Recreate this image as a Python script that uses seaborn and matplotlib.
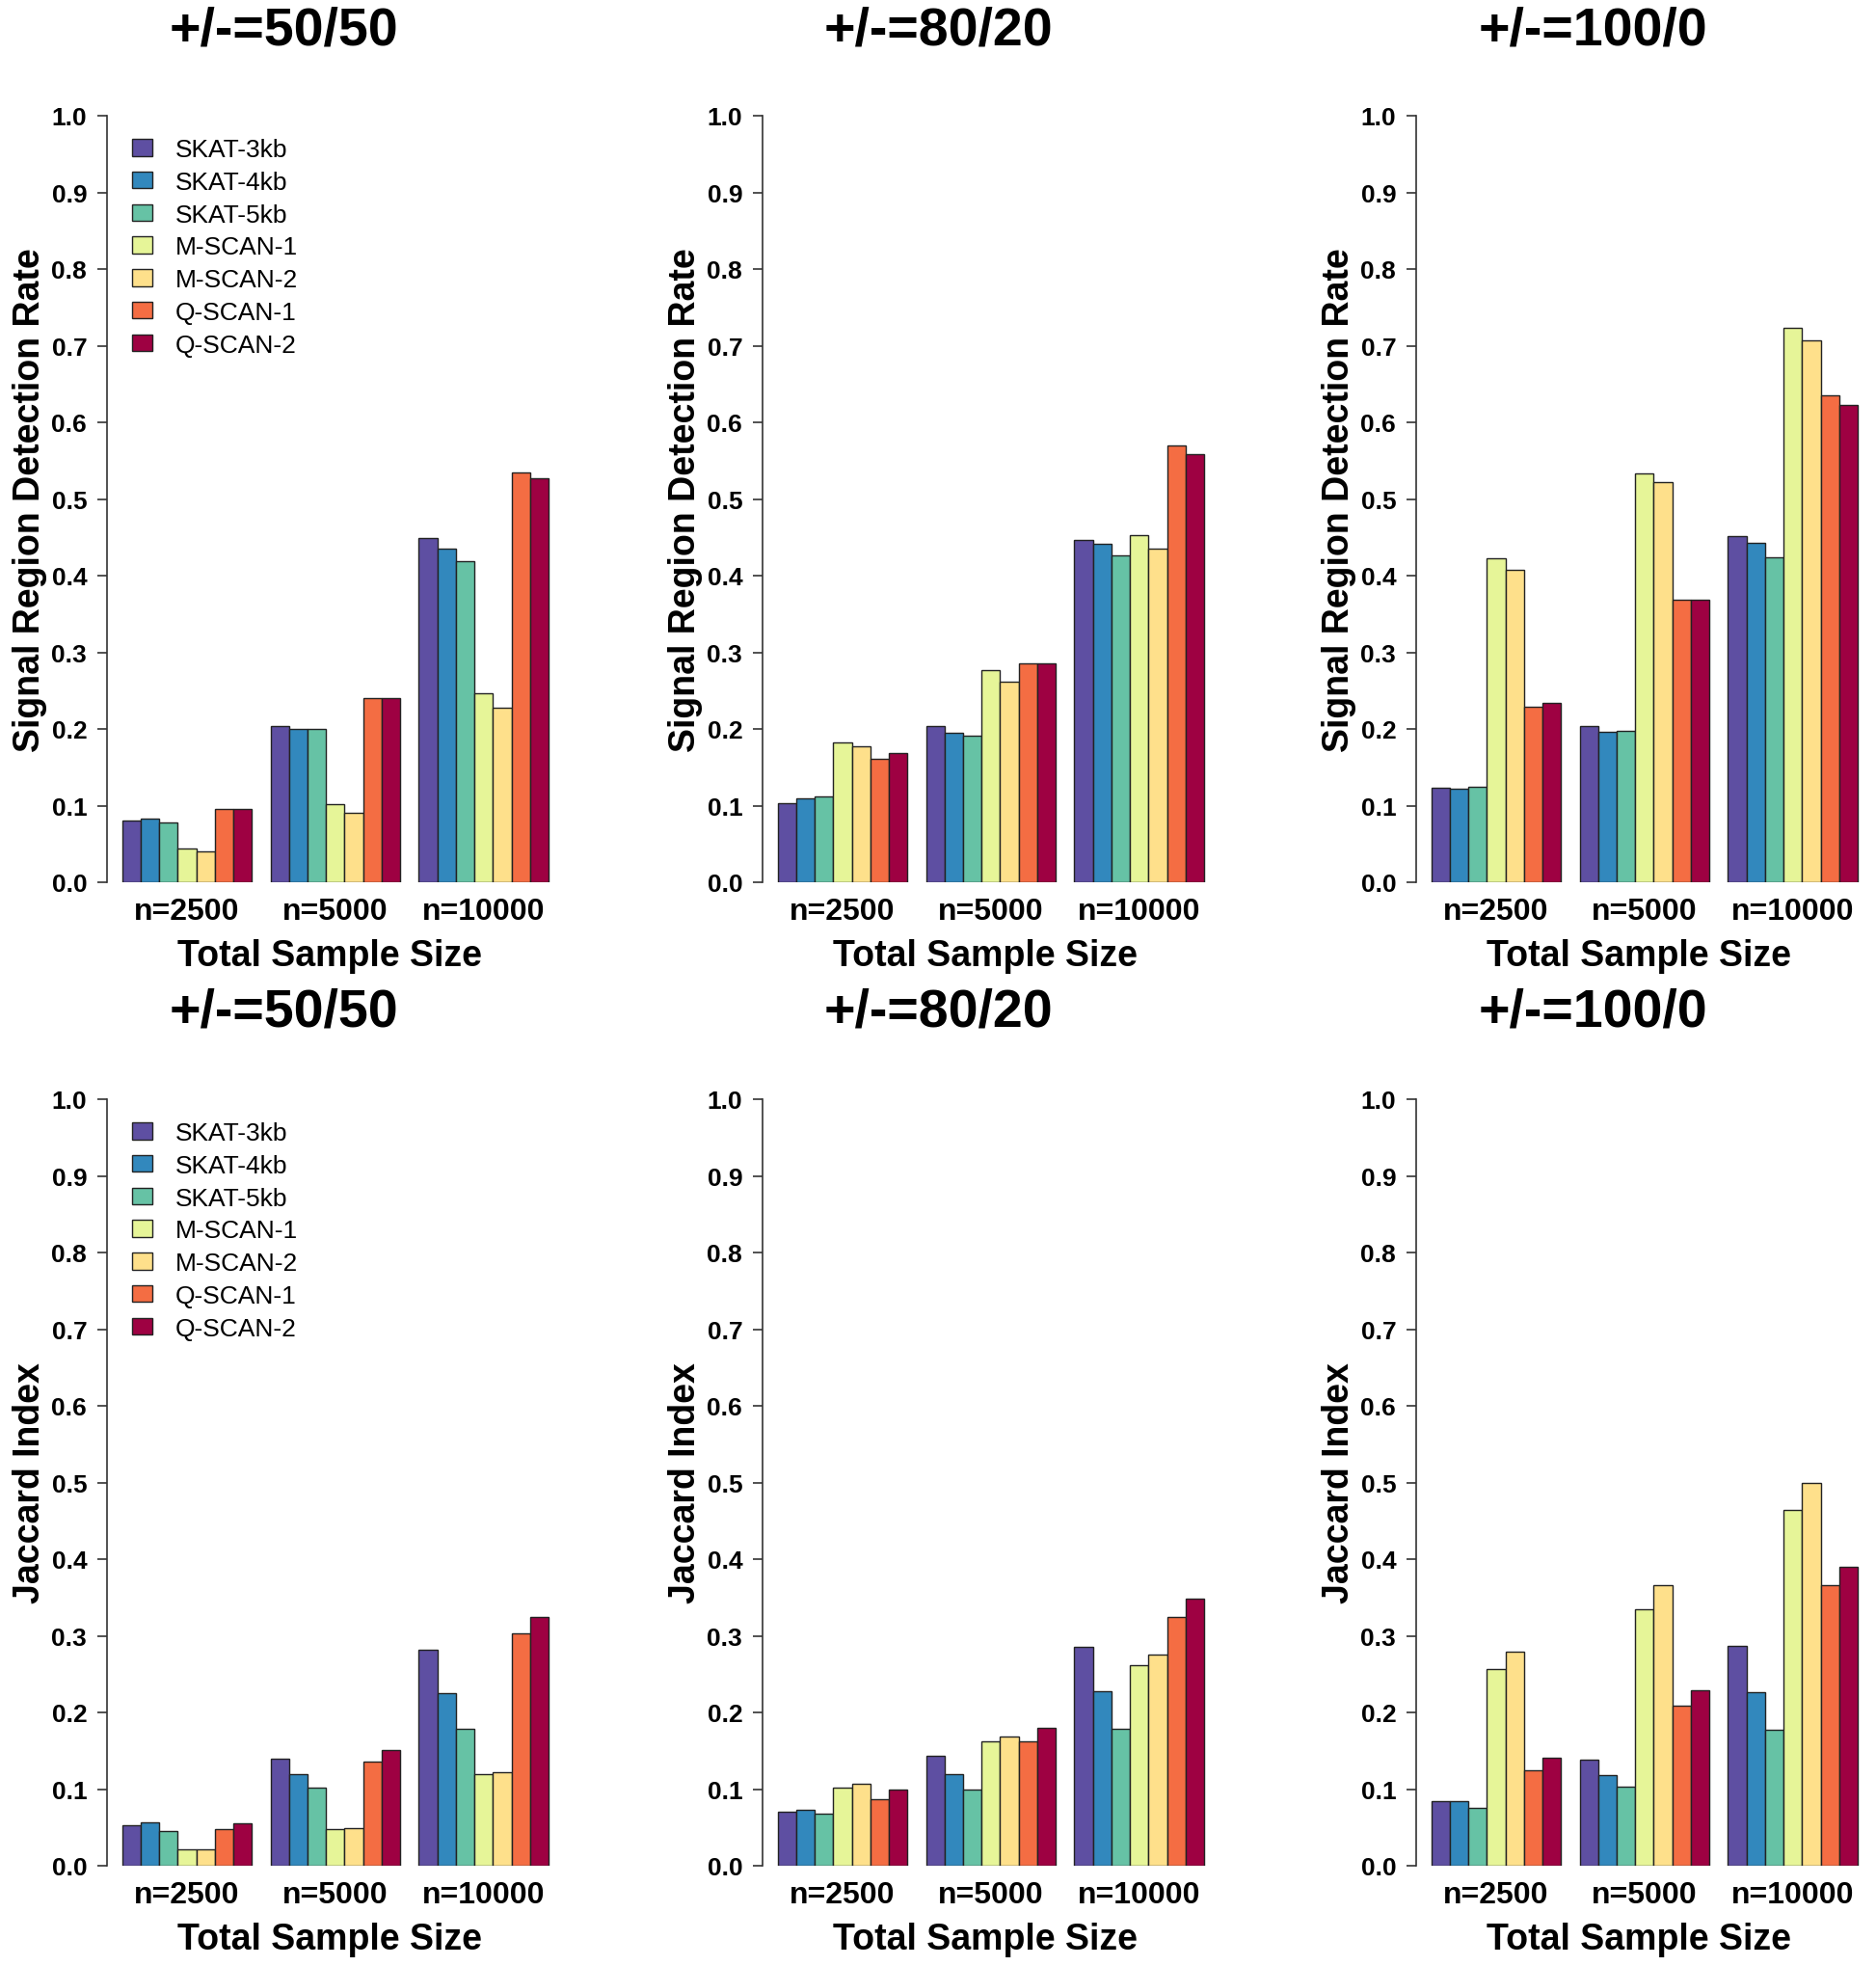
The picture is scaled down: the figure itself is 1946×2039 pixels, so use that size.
import numpy as np
import pandas as pd
import matplotlib
matplotlib.use('Agg')
import matplotlib.pyplot as plt
import seaborn as sns

sizes = ['n=2500', 'n=5000', 'n=10000']
methods = ['SKAT-3kb', 'SKAT-4kb', 'SKAT-5kb', 'M-SCAN-1', 'M-SCAN-2', 'Q-SCAN-1', 'Q-SCAN-2']
colors = ['#5e4fa2', '#3288bd', '#66c2a5', '#e6f598', '#fee08b', '#f46d43', '#9e0142']
ratios = ['+/-=50/50', '+/-=80/20', '+/-=100/0']

# signal region detection rate (rows = sample size, cols = method)
rate_50_50 = [[0.080, 0.083, 0.078, 0.044, 0.040, 0.096, 0.096],
              [0.204, 0.200, 0.200, 0.102, 0.091, 0.240, 0.240],
              [0.449, 0.435, 0.419, 0.246, 0.228, 0.534, 0.527]]
rate_80_20 = [[0.103, 0.110, 0.112, 0.183, 0.177, 0.161, 0.169],
              [0.204, 0.195, 0.191, 0.277, 0.262, 0.285, 0.286],
              [0.446, 0.442, 0.427, 0.453, 0.435, 0.570, 0.559]]
rate_100_0 = [[0.123, 0.122, 0.125, 0.423, 0.408, 0.229, 0.234],
              [0.204, 0.196, 0.198, 0.533, 0.522, 0.369, 0.369],
              [0.452, 0.443, 0.424, 0.723, 0.707, 0.635, 0.623]]

# jaccard index
jac_50_50 = [[0.053, 0.057, 0.045, 0.021, 0.021, 0.048, 0.055],
             [0.139, 0.120, 0.102, 0.048, 0.049, 0.136, 0.151],
             [0.282, 0.225, 0.178, 0.120, 0.122, 0.303, 0.325]]
jac_80_20 = [[0.070, 0.073, 0.068, 0.102, 0.107, 0.087, 0.100],
             [0.143, 0.119, 0.100, 0.162, 0.169, 0.162, 0.180],
             [0.285, 0.228, 0.179, 0.262, 0.276, 0.324, 0.348]]
jac_100_0 = [[0.084, 0.084, 0.076, 0.257, 0.279, 0.124, 0.141],
             [0.138, 0.118, 0.103, 0.335, 0.366, 0.209, 0.229],
             [0.287, 0.226, 0.177, 0.464, 0.499, 0.366, 0.390]]

panels = [[rate_50_50, rate_80_20, rate_100_0],
          [jac_50_50, jac_80_20, jac_100_0]]
ylabels = ['Signal Region Detection Rate', 'Jaccard Index']

sns.set_style('ticks')
plt.rcParams['font.family'] = ['Liberation Sans', 'DejaVu Sans']
plt.rcParams['text.color'] = 'black'
plt.rcParams['axes.labelcolor'] = 'black'
plt.rcParams['xtick.labelcolor'] = 'black'
plt.rcParams['ytick.labelcolor'] = 'black'

W, H = 1946, 2040
fig, axes = plt.subplots(2, 3, figsize=(W / 100, H / 100), dpi=100)

lefts = [111, 791, 1469]
bottoms = [916, 1936]
title_x = [294, 973, 1652]
title_y = [33, 1051]

for r in range(2):
    for c in range(3):
        ax = axes[r, c]
        ax.set_position([lefts[c] / W, (H - bottoms[r]) / H, 463 / W, 795 / H])
        vals = panels[r][c]
        df = pd.DataFrame([(sizes[i], m, vals[i][j])
                           for i in range(3) for j, m in enumerate(methods)],
                          columns=['size', 'method', 'value'])
        sns.barplot(data=df, x='size', y='value', hue='method', order=sizes,
                    hue_order=methods, palette=colors, width=0.875, gap=0,
                    edgecolor='#222222', linewidth=1, saturation=1,
                    legend=(c == 0), ax=ax)
        ax.set_xlim(-0.54, 2.47)
        ax.set_ylim(0, 1)
        ax.set_yticks(np.arange(0, 1.01, 0.1))
        ax.set_yticklabels([f'{v:.1f}' for v in np.arange(0, 1.01, 0.1)],
                           fontsize=19, fontweight='bold')
        ax.tick_params(axis='y', length=7, width=1.2, color='#333333', pad=8)
        ax.tick_params(axis='x', length=0, pad=11, labelsize=23)
        for t in ax.get_xticklabels():
            t.set_fontweight('bold')
        for s in ['top', 'right', 'bottom']:
            ax.spines[s].set_visible(False)
        ax.spines['left'].set_color('#333333')
        ax.spines['left'].set_linewidth(1.2)
        ax.set_xlabel('Total Sample Size', fontsize=27, fontweight='bold', labelpad=9)
        ax.set_ylabel(ylabels[r], fontsize=27, fontweight='bold')
        ax.yaxis.set_label_coords(-0.134, 0.5)
        if c == 0:
            sns.move_legend(ax, 'upper left', bbox_to_anchor=(0.056, 0.971),
                            frameon=False, title=None, fontsize=19,
                            handlelength=0.8, handleheight=0.65,
                            handletextpad=0.9, labelspacing=0.37,
                            borderpad=0, borderaxespad=0)
        fig.text(title_x[c] / W, 1 - title_y[r] / H, ratios[c],
                 fontsize=40, fontweight='bold', ha='center', va='center')

fig.savefig('out.png', dpi=100)
